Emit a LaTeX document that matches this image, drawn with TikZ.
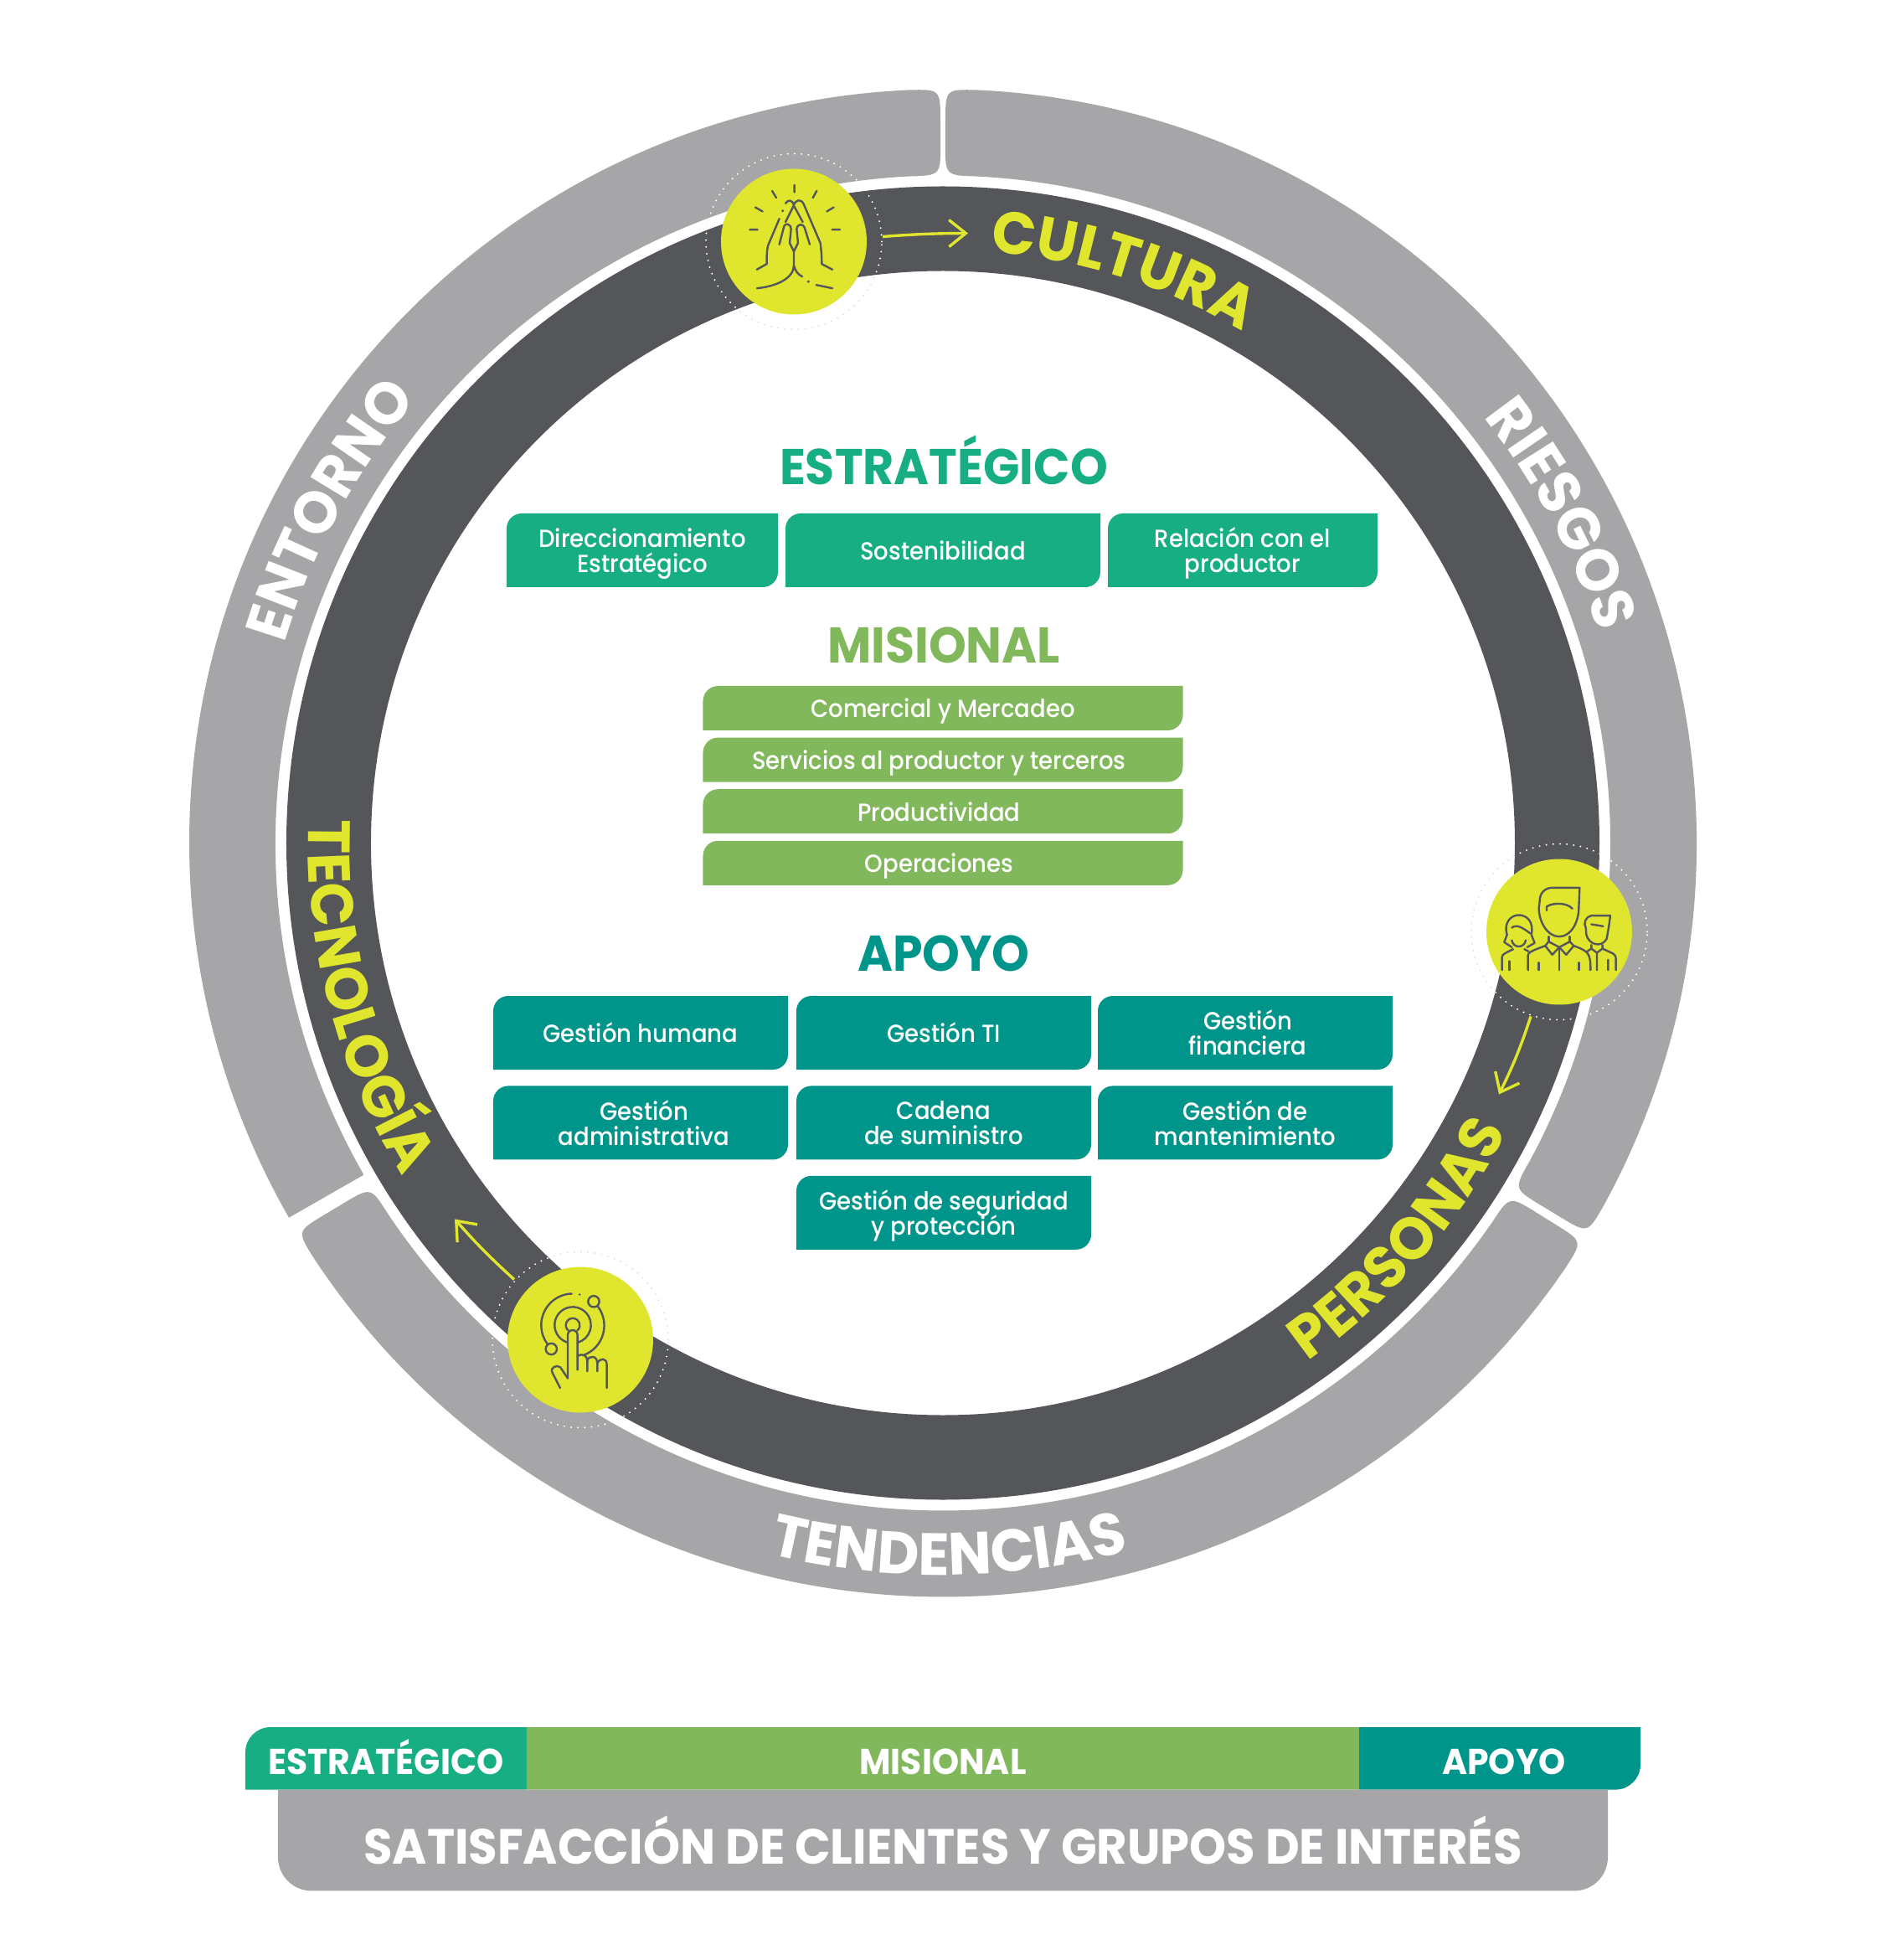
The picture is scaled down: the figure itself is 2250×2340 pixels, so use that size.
\documentclass[tikz,border=0pt]{standalone}
\usepackage{fontspec}
\usepackage{xcolor}
\usetikzlibrary{positioning,arrows.meta,decorations.text}

\setmainfont{Poppins}
\newfontfamily\boxfont[FakeStretch=0.93]{Poppins Medium}
\newfontfamily\capsfont[FakeStretch=0.95]{Poppins Bold}
\newfontfamily\ringfont[FakeStretch=0.97]{Poppins Bold}
\newcommand{\curvefont}{\ringfont\fontsize{35.5}{35.5}\selectfont}
\newcommand{\leaffont}{\boxfont\fontsize{14.8}{15}\selectfont\lineskiplimit=-10pt\relax}

\definecolor{limeMark}{HTML}{E0E62E}
\definecolor{ringDark}{HTML}{54565A}
\definecolor{ringGrey}{HTML}{A6A6A9}
\definecolor{estGreen}{HTML}{17AE83}
\definecolor{misGreen}{HTML}{82B85C}
\definecolor{apoTeal}{HTML}{00958A}

% one piece of the grey ring, counter-clockwise: angles, then corner cuts at both ends
\newcommand{\ringpiece}[4]{
  \pgfmathsetmacro{\outA}{#1+#3/900*57.3}
  \pgfmathsetmacro{\outB}{#2-#4/900*57.3}
  \pgfmathsetmacro{\inA}{#1+#3/797*57.3}
  \pgfmathsetmacro{\inB}{#2-#4/797*57.3}
  \fill[ringGrey]
    (#1:797+#3) -- (#1:900-#3) .. controls (#1:900) .. (\outA:900)
    arc[start angle=\outA, end angle=\outB, radius=900]
    .. controls (#2:900) .. (#2:900-#4) -- (#2:797+#4)
    .. controls (#2:797) .. (\inB:797)
    arc[start angle=\inB, end angle=\inA, radius=797]
    .. controls (#1:797) .. (#1:797+#3) -- cycle;
}

\tikzset{
  cornerbox/.style n args={4}{rectangle, inner sep=0pt, outer sep=0pt, align=center, text=white,
    path picture={
      \fill[#1] (path picture bounding box.west)
        [rounded corners=#2] -- (path picture bounding box.north west)
        [sharp corners] -- (path picture bounding box.north east)
        [rounded corners=#3] -- (path picture bounding box.south east)
        [rounded corners=#4] -- (path picture bounding box.south west)
        [sharp corners] -- (path picture bounding box.west) -- cycle;
    }},
  leaf/.style={cornerbox={#1}{9pt}{9pt}{0pt}, text depth=0pt, font=\leaffont},
  heading/.style={anchor=base, font=\capsfont\fontsize{30}{30}\selectfont},
  barbox/.style={minimum height=37.3pt, text height=19pt, text depth=0pt,
    font=\capsfont\fontsize{21.5}{21.5}\selectfont},
  curved/.style 2 args={decorate, decoration={text along path, text align=center,
    text={|\color{#1}\curvefont|#2}}},
  badge/.style={circle, fill=limeMark, minimum size=87pt, inner sep=0pt},
  halo/.style={line width=1.1pt, line cap=round, dash pattern=on 0pt off 4.1pt},
  icon/.style={draw=ringDark, line width=1.2pt, line cap=round, line join=round},
  flow/.style={draw=limeMark, line width=1.7pt, -{Straight Barb[length=10pt, width=16pt, line width=1.7pt]}},
}

\begin{document}
\begin{tikzpicture}[x=0.5pt, y=0.5pt]
\useasboundingbox (-1126,-1333.5) rectangle (1124,1006.5);

\coordinate (culturaBadge) at (-178,718);
\coordinate (personasBadge) at (736,-106);
\coordinate (tecnoBadge) at (-433,-593);

% dotted halos, pale where they run over the paper
\foreach \spot in {culturaBadge,personasBadge,tecnoBadge}
  \draw[halo, draw=black!12] (\spot) circle[radius=105];

% rings
\ringpiece{90.2}{209.8}{38}{0}
\ringpiece{-31.2}{89.8}{38}{38}
\ringpiece{-149}{-31.9}{38}{38}
\fill[ringDark, even odd rule] (0,0) circle[radius=784] (0,0) circle[radius=683];

% halos again, white on the rings
\begin{scope}[even odd rule]
  \clip (0,0) circle[radius=900] (0,0) circle[radius=683];
  \foreach \spot in {culturaBadge,personasBadge,tecnoBadge}
    \draw[halo, draw=white] (\spot) circle[radius=105];
\end{scope}

\node[badge] (cultura) at (culturaBadge) {};
\node[badge] (personas) at (personasBadge) {};
\node[badge] (tecno) at (tecnoBadge) {};

% arrows leaving the badges
\coordinate (culturaFoot) at (-72,724);
\coordinate (culturaTip) at (30,728);
\coordinate (personasFoot) at (702,-207);
\coordinate (personasTip) at (664,-300);
\coordinate (tecnoFoot) at (-512,-521);
\coordinate (tecnoTip) at (-583,-449);
\draw[flow] (culturaFoot) to[bend left=2] (culturaTip);
\draw[flow] (personasFoot) to[bend left=4] (personasTip);
\draw[flow] (tecnoFoot) to[bend left=3] (tecnoTip);

% ring labels
\path[curved={limeMark}{CULTURA}] (92:708) arc[start angle=92, end angle=53, radius=708];
\path[curved={limeMark}{PERSONAS}] (-71:757) arc[start angle=-71, end angle=-11, radius=757];
\path[curved={limeMark}{TECNOLOGÍA}] (164.6:758) arc[start angle=164.6, end angle=225, radius=758];
\path[curved={white}{ENTORNO}] (182:822) arc[start angle=182, end angle=121, radius=822];
\path[curved={white}{RIESGOS}] (57:822) arc[start angle=57, end angle=-1, radius=822];
\path[curved={white}{TENDENCIAS}] (-122:874) arc[start angle=-122, end angle=-57, radius=874];

% hands
\begin{scope}[shift={(cultura.center)}, x=0.1667pt, y=-0.1667pt]
  \draw[icon] (2,-203) -- (2,-177) (-78,-182) -- (-63,-157) (82,-182) -- (68,-157)
    (-138,-123) -- (-112,-108) (143,-123) -- (118,-108) (-158,-43) -- (-130,-43) (137,-43) -- (165,-43);
  \draw[icon] (-30,-137) .. controls (-20,-152) and (-5,-150) .. (0,-130)
    .. controls (5,-150) and (25,-155) .. (35,-135) -- (95,5) .. controls (98,30) and (100,50) .. (100,80) -- (138,100);
  \draw[icon] (0,-130) -- (-30,-70) (2,-125) -- (32,-70);
  \draw[icon] (-52,-82) -- (-93,15) .. controls (-98,40) and (-97,60) .. (-97,80) -- (-133,100);
  \draw[icon] (-52,10) -- (-35,-55) .. controls (-30,-68) and (-12,-65) .. (-10,-45) -- (-15,5) -- (0,35)
    -- (15,5) -- (10,-45) .. controls (12,-65) and (35,-68) .. (40,-45) -- (57,10);
  \draw[icon] (-132,167) .. controls (-60,160) and (0,130) .. (0,85) -- (0,35) (0,85) .. controls (5,105) and (15,118) .. (30,125);
  \draw[icon] (80,155) -- (138,167);
  \fill[ringDark] (-40,-110) circle[radius=5] (52,143) circle[radius=5];
\end{scope}

% people
\begin{scope}[shift={(personas.center)}, x=0.1667pt, y=-0.1667pt]
  \draw[icon] (-70,-110) .. controls (-70,-140) and (-50,-158) .. (-25,-158) -- (73,-158) -- (70,-85)
    .. controls (70,-40) and (45,17) .. (0,17) .. controls (-45,17) and (-73,-40) .. (-73,-85) -- cycle;
  \draw[icon] (-45,-77) -- (-45,-90) .. controls (-30,-103) and (25,-108) .. (47,-83);
  \draw[icon] (-38,17) -- (-38,35) (38,17) -- (38,35);
  \draw[icon] (-38,35) -- (-50,50) -- (-25,82) -- (0,55) -- (25,82) -- (52,50) -- (38,35) (-38,35) -- (0,55) -- (38,35);
  \draw[icon] (-112,137) -- (-112,85) .. controls (-112,75) and (-105,70) .. (-50,50);
  \draw[icon] (52,50) .. controls (105,70) and (112,75) .. (112,137);
  \draw[icon] (0,55) -- (0,137) (-73,110) -- (-73,137) (71,110) -- (71,137);
  % woman on the left
  \draw[icon] (-170,55) -- (-197,37) -- (-187,10) .. controls (-200,-30) and (-175,-60) .. (-145,-60)
    .. controls (-115,-60) and (-90,-35) .. (-100,10) -- (-88,40) -- (-115,55);
  \draw[icon] (-170,-15) .. controls (-150,-30) and (-125,-10) .. (-105,5);
  \draw[icon] (-170,30) .. controls (-165,60) and (-125,60) .. (-120,30);
  \draw[icon] (-205,137) -- (-205,90) .. controls (-205,80) and (-190,75) .. (-165,62) (-125,62) -- (-110,70);
  \draw[icon] (-178,105) -- (-178,137);
  % man on the right
  \draw[icon] (183,-58) -- (115,-58) .. controls (95,-55) and (85,-30) .. (95,-15) -- (97,10)
    .. controls (105,45) and (150,60) .. (170,25) -- (177,-15) -- cycle;
  \draw[icon] (115,-27) -- (157,-20);
  \draw[icon] (115,47) -- (115,60) -- (135,75) -- (155,60) -- (155,47);
  \draw[icon] (155,60) -- (193,78) .. controls (200,82) and (203,88) .. (203,100) -- (203,137);
  \draw[icon] (115,60) -- (100,70) (135,75) -- (135,137) (175,100) -- (175,137);
\end{scope}

% pointing finger
\begin{scope}[shift={(tecno.center)}, x=0.1667pt, y=-0.1667pt]
  \draw[icon] (-31,-165) arc[start angle=-92, end angle=-217, radius=113];
  \draw[icon] (63,-119) arc[start angle=-37, end angle=69, radius=113];
  \draw[icon] (-45,10) arc[start angle=106, end angle=435, radius=65];
  \draw[icon] (-43,-33) arc[start angle=130, end angle=410, radius=25];
  \draw[icon] (-104,33) circle[radius=20] (48,-137) circle[radius=20];
  \fill[ringDark] (-2,-162) circle[radius=4];
  \draw[icon] (-45,138) -- (-45,-17) arc[start angle=180, end angle=360, radius=17.5] -- (-10,108);
  \draw[icon] (-10,58) .. controls (5,48) and (25,55) .. (25,75) -- (25,113);
  \draw[icon] (25,75) .. controls (30,55) and (61,55) .. (61,85) -- (61,113);
  \draw[icon] (61,85) .. controls (68,65) and (95,62) .. (95,90) -- (95,173);
  \draw[icon] (-45,138) -- (-72,98) .. controls (-85,88) and (-110,100) .. (-100,118) -- (-72,173);
\end{scope}

% process groups
\node[heading, text=estGreen] (estTitle) at (1,427.5) {ESTRATÉGICO};
\node[leaf=estGreen, minimum width=162pt, minimum height=44pt, anchor=north west] (direccion) at (-521,393.5) {Direccionamiento\\Estratégico};
\node[leaf=estGreen, minimum width=188pt, minimum height=44pt, right=4.5pt of direccion] (sostenible) {Sostenibilidad};
\node[leaf=estGreen, minimum width=161pt, minimum height=44pt, right=4.5pt of sostenible] (productor) {Relación con el\\productor};

\node[heading, text=misGreen] (misTitle) at (1,214.5) {MISIONAL};
\node[leaf=misGreen, minimum width=286.5pt, minimum height=26.5pt, anchor=north west] (comercial) at (-286.5,187.5) {Comercial y Mercadeo};
\node[leaf=misGreen, minimum width=286.5pt, minimum height=26.5pt, below=4.3pt of comercial] (servicios) {\hspace*{-4.5pt}Servicios al productor y terceros};
\node[leaf=misGreen, minimum width=286.5pt, minimum height=26.5pt, below=4.3pt of servicios] (productiva) {\hspace*{-4.5pt}Productividad};
\node[leaf=misGreen, minimum width=286.5pt, minimum height=26.5pt, below=4.3pt of productiva] (operacion) {\hspace*{-4.5pt}Operaciones};

\node[heading, text=apoTeal] (apoTitle) at (1,-152.5) {APOYO};
\node[leaf=apoTeal, minimum width=176pt, minimum height=44pt, anchor=north west] (humana) at (-537,-182.5) {Gestión humana};
\node[leaf=apoTeal, minimum width=176pt, minimum height=44pt, right=5pt of humana] (gestionTI) {Gestión TI};
\node[leaf=apoTeal, minimum width=176pt, minimum height=44pt, right=4pt of gestionTI] (financiera) {\hspace*{3pt}Gestión\\\hspace*{3pt}financiera};
\node[leaf=apoTeal, minimum width=176pt, minimum height=44pt, below=9.7pt of humana] (admin) {\hspace*{4pt}Gestión\\\hspace*{4pt}administrativa};
\node[leaf=apoTeal, minimum width=176pt, minimum height=44pt, below=9.7pt of gestionTI] (cadena) {Cadena\\de suministro};
\node[leaf=apoTeal, minimum width=176pt, minimum height=44pt, below=9.7pt of financiera] (manten) {Gestión de\\mantenimiento};
\node[leaf=apoTeal, minimum width=176pt, minimum height=44pt, below=9.7pt of cadena] (seguridad) {Gestión de seguridad\\y protección};

% bottom bars
\node[barbox, cornerbox={estGreen}{15pt}{0pt}{0pt}, minimum width=168pt, anchor=north west] (barEst) at (-833,-1055.5) {ESTRATÉGICO};
\node[barbox, cornerbox={misGreen}{0pt}{0pt}{0pt}, minimum width=497pt, right=0pt of barEst] (barMis) {MISIONAL};
\node[barbox, cornerbox={apoTeal}{0pt}{15pt}{0pt}, minimum width=168pt, right=0pt of barMis] (barApo) {\hspace{5pt}APOYO};
\node[cornerbox={ringGrey}{0pt}{20pt}{20pt}, minimum width=794pt, minimum height=60.4pt, text height=28pt, text depth=0pt,
  font=\capsfont\fontsize{29.5}{29.5}\selectfont, anchor=north west] (satisf) at (-794,-1130.1) {SATISFACCIÓN DE CLIENTES Y GRUPOS DE INTERÉS};
\end{tikzpicture}
\end{document}
